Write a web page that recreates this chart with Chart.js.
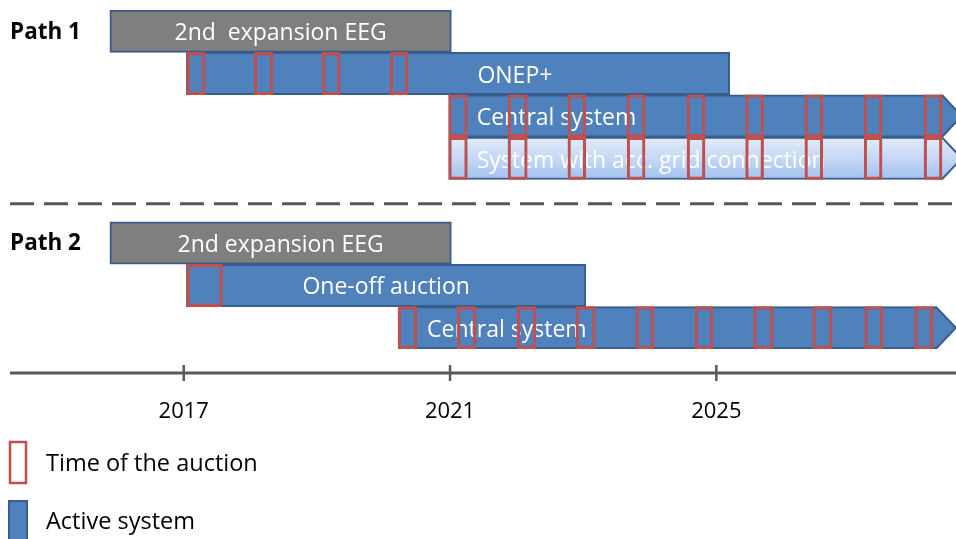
<!DOCTYPE html>
<html>
<head>
<meta charset="utf-8">
<script src="https://cdn.jsdelivr.net/npm/chart.js@4.4.1/dist/chart.umd.min.js"></script>
<style>
  html, body { margin: 0; padding: 0; background: #fff; }
  #wrap { width: 956px; height: 539px; }
</style>
</head>
<body>
<div id="wrap"><canvas id="timeline" width="956" height="539"></canvas></div>
<script>
// rows of the timeline, "gap" is the empty row where the dashed separator sits
const rows = ["p1_eeg", "p1_onep", "p1_central", "p1_grid", "gap", "p2_eeg", "p2_oneoff", "p2_central"];

// support systems (one bar each)
const systemRows  = ["p1_eeg", "p1_onep", "p1_central", "p1_grid", "p2_eeg", "p2_oneoff", "p2_central"];
const systemNames = ["2nd  expansion EEG", "ONEP+", "Central system", "System with acc. grid connection",
                     "2nd expansion EEG", "One-off auction", "Central system"];
const systemStart = [2015.89, 2017.04, 2020.98, 2020.98, 2015.89, 2017.04, 2020.22];
const systemEnd   = [2021.02, 2025.20, 2028.40, 2028.40, 2021.02, 2023.04, 2028.31];
const systemKind  = ["old", "active", "active", "grid", "old", "active", "active"];
const continues   = [false, false, true, true, false, false, true];

// auction dates per row, [from, to] in years
const auctionsOnep = [[2017.05, 2017.32], [2018.06, 2018.34], [2019.08, 2019.35], [2020.10, 2020.37]];
const auctionsCentral1 = [[2020.98, 2021.26], [2021.87, 2022.16], [2022.77, 2023.04], [2023.66, 2023.93],
                          [2024.56, 2024.83], [2025.44, 2025.71], [2026.33, 2026.60], [2027.22, 2027.49],
                          [2028.12, 2028.39]];
const auctionsGrid = auctionsCentral1;
const auctionsOneOff = [[2017.05, 2017.58]];
const auctionsCentral2 = [[2020.22, 2020.50], [2021.11, 2021.39], [2022.01, 2022.29], [2022.89, 2023.18],
                          [2023.79, 2024.06], [2024.68, 2024.95], [2025.56, 2025.85], [2026.45, 2026.74],
                          [2027.23, 2027.50], [2027.98, 2028.25]];

const yearTicks = [2017, 2021, 2025];
const pathNames = ["Path 1", "Path 2"];
const pathRows = ["p1_eeg", "p2_eeg"];
const legendLabels = ["Time of the auction", "Active system"];

const FONT = "'Open Sans', sans-serif";
const BLUE = "#4f81bd", BLUE_DARK = "#385d8a", GREY = "#7f7f7f", RED = "#c0504d", AXIS = "#595959";

// where the label sits inside each bar: "center" or px from the bar start
const labelPlace = ["center", 291, 28, 28, "center", "center", 29];

// build the auction points
const auctionData = [];
[["p1_onep", auctionsOnep], ["p1_central", auctionsCentral1], ["p1_grid", auctionsGrid],
 ["p2_oneoff", auctionsOneOff], ["p2_central", auctionsCentral2]].forEach(([row, list]) => {
  list.forEach(a => auctionData.push({ y: row, x: a }));
});

function rowPx(chart, row) {
  return chart.scales.y.getPixelForValue(rows.indexOf(row));
}

function gridGradient(chart, row) {
  const c = rowPx(chart, row);
  const g = chart.ctx.createLinearGradient(0, c - 21, 0, c + 21);
  g.addColorStop(0, "#e2ebfa");
  g.addColorStop(0.5, "#c6d8f5");
  g.addColorStop(1, "#a3c1f0");
  return g;
}

function fillFor(chart, i) {
  const k = systemKind[i];
  if (k == "old") return GREY;
  if (k == "grid") {
    if (!chart.chartArea) return "#c6d8f5";
    return gridGradient(chart, systemRows[i]);
  }
  return BLUE;
}

// arrows + bar texts, drawn right after the system bars (before the auction boxes)
const barExtras = {
  id: "barExtras",
  afterDatasetDraw(chart, args) {
    if (args.index !== 0) return;
    const ctx = chart.ctx;
    args.meta.data.forEach((el, i) => {
      const p = el.getProps(["x", "y", "base", "height"], true);
      const left = Math.min(p.x, p.base), right = Math.max(p.x, p.base);
      const top = p.y - p.height / 2, bottom = p.y + p.height / 2;
      ctx.save();
      if (continues[i]) {
        const len = p.height * 0.45;
        ctx.beginPath();
        ctx.moveTo(right - 3, top + 1);
        ctx.lineTo(right, top + 1);
        ctx.lineTo(right + len, p.y);
        ctx.lineTo(right, bottom - 1);
        ctx.lineTo(right - 3, bottom - 1);
        ctx.closePath();
        ctx.fillStyle = fillFor(chart, i);
        ctx.fill();
        ctx.beginPath();
        ctx.moveTo(right - 3, top + 1);
        ctx.lineTo(right, top + 1);
        ctx.lineTo(right + len, p.y);
        ctx.lineTo(right, bottom - 1);
        ctx.lineTo(right - 3, bottom - 1);
        ctx.strokeStyle = BLUE_DARK;
        ctx.lineWidth = 2;
        ctx.stroke();
      }
      ctx.fillStyle = "#fff";
      ctx.font = "23px " + FONT;
      ctx.textBaseline = "middle";
      if (labelPlace[i] == "center") {
        ctx.textAlign = "center";
        ctx.fillText(systemNames[i], (left + right) / 2, p.y + 2);
      } else {
        ctx.textAlign = "left";
        ctx.fillText(systemNames[i], left + labelPlace[i], p.y + 3);
      }
      ctx.restore();
    });
  }
};

// separator, time axis, path names and legend
const decorations = {
  id: "decorations",
  afterDraw(chart) {
    const ctx = chart.ctx;
    const xs = chart.scales.x;
    const area = chart.chartArea;
    ctx.save();

    // dashed separator between the two paths
    const gy = rowPx(chart, "gap") + 3;
    ctx.strokeStyle = AXIS;
    ctx.lineWidth = 3;
    ctx.setLineDash([24, 10]);
    ctx.beginPath();
    ctx.moveTo(10, gy);
    ctx.lineTo(956, gy);
    ctx.stroke();
    ctx.setLineDash([]);

    // time axis
    const ay = area.bottom + 24;
    ctx.beginPath();
    ctx.moveTo(10, ay);
    ctx.lineTo(956, ay);
    ctx.stroke();
    ctx.lineWidth = 2.5;
    yearTicks.forEach(t => {
      const tx = xs.getPixelForValue(t);
      ctx.beginPath();
      ctx.moveTo(tx, ay - 8);
      ctx.lineTo(tx, ay + 8);
      ctx.stroke();
    });

    // path names
    ctx.fillStyle = "#000";
    ctx.font = "bold 22.5px " + FONT;
    ctx.textBaseline = "middle";
    ctx.textAlign = "left";
    pathNames.forEach((n, i) => ctx.fillText(n, 10, rowPx(chart, pathRows[i]) + 1));

    // legend
    ctx.strokeStyle = RED;
    ctx.lineWidth = 2.5;
    ctx.strokeRect(10, 442, 16, 41);
    ctx.fillStyle = BLUE_DARK;
    ctx.fillRect(8, 500, 20, 40);
    ctx.fillStyle = BLUE;
    ctx.fillRect(10, 502, 16, 38);
    ctx.fillStyle = "#000";
    ctx.font = "23.5px " + FONT;
    ctx.fillText(legendLabels[0], 46, 464);
    ctx.fillText(legendLabels[1], 46, 522);
    ctx.restore();
  }
};

new Chart(document.getElementById("timeline"), {
  type: "bar",
  data: {
    labels: rows,
    datasets: [
      {
        label: "Active system",
        data: systemRows.map((r, i) => ({ y: r, x: [systemStart[i], systemEnd[i]] })),
        backgroundColor: c => fillFor(c.chart, c.dataIndex),
        borderColor: BLUE_DARK,
        borderWidth: 2,
        borderSkipped: false,
        grouped: false,
        barPercentage: 1,
        categoryPercentage: 1,
        order: 2
      },
      {
        label: "Time of the auction",
        data: auctionData,
        backgroundColor: "rgba(0,0,0,0)",
        borderColor: RED,
        borderWidth: 2.5,
        borderSkipped: false,
        grouped: false,
        barPercentage: 1,
        categoryPercentage: 1,
        order: 1
      }
    ]
  },
  options: {
    indexAxis: "y",
    responsive: false,
    devicePixelRatio: 1,
    animation: false,
    layout: { padding: { top: 10, bottom: 115, left: 0, right: 0 } },
    plugins: { legend: { display: false }, tooltip: { enabled: false } },
    scales: {
      y: { type: "category", labels: rows, display: false },
      x: {
        type: "linear",
        min: 2014.24,
        max: 2028.6,
        position: "bottom",
        grid: { display: false, drawTicks: false },
        border: { display: false },
        afterBuildTicks: s => { s.ticks = yearTicks.map(v => ({ value: v })); },
        afterFit: s => { s.height = 75; },
        ticks: { color: "#000", font: { size: 22, family: FONT }, padding: 50, callback: v => String(v) }
      }
    }
  },
  plugins: [barExtras, decorations]
});
</script>
</body>
</html>
